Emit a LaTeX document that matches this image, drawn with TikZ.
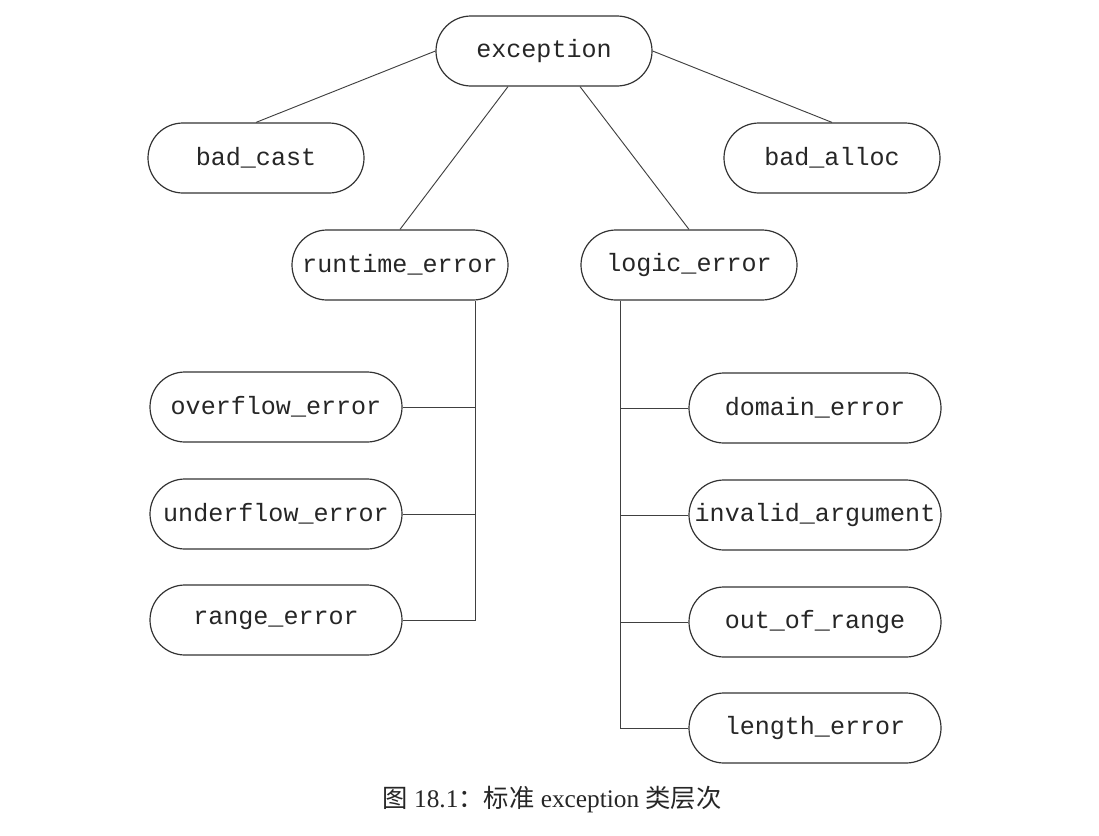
\documentclass[tikz,border=0pt]{standalone}
\usepackage{fontspec}
\setmainfont{Liberation Serif}
\setmonofont{Liberation Mono}
\newfontfamily\cjk{Noto Sans CJK SC}
\usetikzlibrary{shapes.misc}
\begin{document}
\begin{tikzpicture}[x=0.75pt,y=-0.75pt,
  cls/.style={rounded rectangle, draw=black!80, line width=0.9pt,
    minimum width=162pt, minimum height=52.5pt, inner sep=0pt,
    font=\ttfamily\fontsize{18.8}{20}\selectfont, text=black!85},
  wide/.style={cls, minimum width=189pt},
  link/.style={draw=black!75, line width=0.7pt}]
\useasboundingbox (0,0) rectangle (1099,835);
\node[cls] (exception) at (544,51) {exception};
\node[cls] (bad_cast) at (256,158) {bad\_cast};
\node[cls] (bad_alloc) at (832,158) {bad\_alloc};
\node[cls] (runtime_error) at (400,265) {runtime\_error};
\node[cls] (logic_error) at (689,265) {logic\_error};
\node[wide] (overflow_error) at (276,407) {overflow\_error};
\node[wide] (underflow_error) at (276,514) {underflow\_error};
\node[wide] (range_error) at (276,620) {range\_error};
\node[wide] (domain_error) at (815,408) {domain\_error};
\node[wide] (invalid_argument) at (815,515) {invalid\_argument};
\node[wide] (out_of_range) at (815,622) {out\_of\_range};
\node[wide] (length_error) at (815,728) {length\_error};

\draw[link] (exception.west) -- (bad_cast.north);
\draw[link] (exception.east) -- (bad_alloc.north);
\draw[link] ([xshift=-27pt]exception.south) -- (runtime_error.north);
\draw[link] ([xshift=27pt]exception.south) -- (logic_error.north);

\coordinate (spineL) at ([xshift=56.25pt]runtime_error.south);
\coordinate (spineR) at ([xshift=-51.75pt]logic_error.south);
\draw[link] (spineL) |- (range_error.east);
\draw[link] (overflow_error.east) -- (overflow_error.east -| spineL);
\draw[link] (underflow_error.east) -- (underflow_error.east -| spineL);
\draw[link] (spineR) |- (length_error.west);
\draw[link] (domain_error.west) -- (domain_error.west -| spineR);
\draw[link] (invalid_argument.west) -- (invalid_argument.west -| spineR);
\draw[link] (out_of_range.west) -- (out_of_range.west -| spineR);

\node[font=\fontsize{19}{22}\selectfont, text=black!85] (caption) at (552,800) {{\cjk 图} 18.1{\cjk ：标准} exception {\cjk 类层次}};
\end{tikzpicture}
\end{document}
